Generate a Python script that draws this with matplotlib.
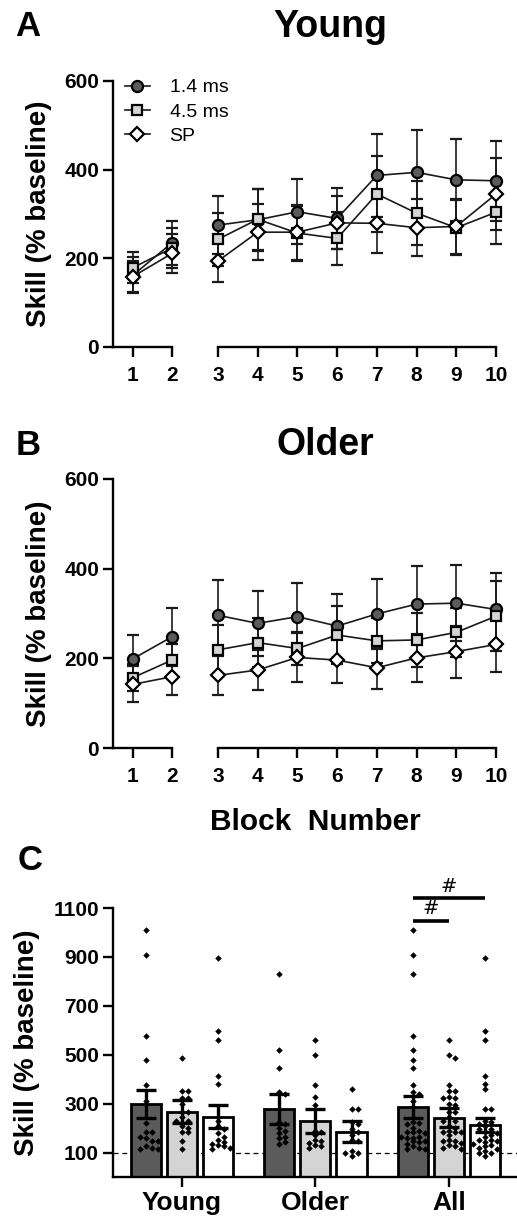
import numpy as np
import matplotlib
matplotlib.use("Agg")
import matplotlib.pyplot as plt

plt.rcParams["font.family"] = ["Liberation Sans", "DejaVu Sans"]
plt.rcParams["font.weight"] = "bold"
plt.rcParams["axes.labelweight"] = "bold"

# ---- data ----
blocks = np.arange(1, 11)
series = ["1.4 ms", "4.5 ms", "SP"]

young_mean = {
    "1.4 ms": [162, 235, 275, 287, 305, 290, 387, 394, 377, 375],
    "4.5 ms": [179, 223, 243, 288, 257, 245, 345, 302, 269, 304],
    "SP": [159, 211, 194, 259, 259, 280, 279, 269, 272, 345],
}
young_sem = {
    "1.4 ms": [40, 50, 65, 70, 73, 68, 93, 96, 92, 90],
    "4.5 ms": [35, 45, 60, 69, 62, 60, 85, 73, 62, 72],
    "SP": [35, 45, 47, 63, 62, 60, 68, 64, 62, 82],
}
older_mean = {
    "1.4 ms": [199, 248, 296, 278, 293, 272, 299, 321, 323, 309],
    "4.5 ms": [157, 196, 219, 235, 222, 252, 239, 241, 258, 294],
    "SP": [142, 159, 162, 174, 202, 196, 179, 201, 215, 231],
}
older_sem = {
    "1.4 ms": [52, 65, 78, 72, 76, 71, 79, 85, 85, 81],
    "4.5 ms": [30, 35, 55, 55, 36, 65, 50, 60, 55, 78],
    "SP": [40, 40, 43, 44, 54, 52, 47, 53, 58, 61],
}

groups = ["Young", "Older", "All"]
bar_mean = {"1.4 ms": [297, 279, 287], "4.5 ms": [267, 229, 243], "SP": [247, 186, 213]}
bar_sem = {"1.4 ms": [57, 62, 46], "4.5 ms": [47, 50, 40], "SP": [48, 43, 30]}

young_pts = {
    "1.4 ms": [1009, 908, 578, 477, 376, 310, 222, 182, 182, 165, 160, 148, 148, 128, 120, 114, 114],
    "4.5 ms": [487, 351, 351, 324, 324, 297, 266, 266, 245, 229, 229, 210, 200, 182, 182, 148, 114],
    "SP": [894, 595, 561, 415, 381, 230, 210, 195, 180, 165, 150, 145, 135, 130, 125, 120, 115],
}
older_pts = {
    "1.4 ms": [829, 518, 446, 347, 340, 223, 215, 200, 190, 180, 165, 160, 145, 135],
    "4.5 ms": [559, 498, 378, 327, 296, 190, 184, 170, 150, 148, 140, 130, 128, 120],
    "SP": [361, 277, 277, 223, 215, 196, 184, 170, 150, 148, 107, 100, 97, 85],
}
# "All" is the pooled sample of both age groups
all_pts = {k: young_pts[k] + older_pts[k] for k in series}

# significance brackets (bar index a, bar index b, height)
sig = [(0, 2, 1140), (0, 1, 1048)]

# ---- styles ----
marker_style = {
    "1.4 ms": dict(marker="o", mfc="#5b5b5b", ms=8),
    "4.5 ms": dict(marker="s", mfc="#d4d4d4", ms=7.5),
    "SP": dict(marker="D", mfc="white", ms=7),
}
bar_color = {"1.4 ms": "#5b5b5b", "4.5 ms": "#d4d4d4", "SP": "white"}

W, H = 517, 1221
fig = plt.figure(figsize=(W / 100, H / 100), dpi=100)


def add_px(l, t, r, b):
    return fig.add_axes([l / W, 1 - b / H, (r - l) / W, (b - t) / H])


def style_axes(ax):
    for s in ["top", "right"]:
        ax.spines[s].set_visible(False)
    for s in ["left", "bottom"]:
        ax.spines[s].set_linewidth(1.7)
    ax.tick_params(direction="out", length=7, width=1.7, labelsize=15, pad=3)


def bold_ticks(ax):
    for lab in ax.get_xticklabels() + ax.get_yticklabels():
        lab.set_fontweight("bold")


def line_panel(top, bottom, means, sems):
    axl = add_px(113, top, 172, bottom)
    axr = add_px(218, top, 496, bottom)
    handles = []
    for name in series:
        m = np.array(means[name])
        e = np.array(sems[name])
        for ax, sl in [(axl, slice(0, 2)), (axr, slice(2, 10))]:
            eb = ax.errorbar(blocks[sl], m[sl], yerr=e[sl], color="#1a1a1a",
                             lw=1.2, elinewidth=1.2, capsize=4.5, capthick=1.2,
                             mec="black", mew=1.6, **marker_style[name])
            for art in eb.get_children():
                art.set_clip_on(False)
        handles.append(eb[0])
    for ax in (axl, axr):
        style_axes(ax)
        ax.set_ylim(0, 600)
    axl.set_xlim(0.49, 2)
    axr.set_xlim(3, 10)
    axl.set_xticks([1, 2])
    axr.set_xticks(range(3, 11))
    axl.set_yticks([0, 200, 400, 600])
    axr.spines["left"].set_visible(False)
    axr.set_yticks([])
    axl.tick_params(axis="x", pad=7)
    axr.tick_params(axis="x", pad=7)
    bold_ticks(axl)
    bold_ticks(axr)
    axl.set_ylabel("Skill (% baseline)", fontsize=20, fontweight="bold")
    axl.yaxis.set_label_coords(-1.03, 0.5)
    return axl, handles


# Panel A
axA, handles = line_panel(81, 347, young_mean, young_sem)
fig.legend(handles, series, loc="upper left", bbox_to_anchor=(117 / W, 1 - 71 / H),
           frameon=False, prop={"weight": "normal", "size": 14},
           handlelength=1.3, handletextpad=1.0, labelspacing=0.35, borderaxespad=0)
fig.text(28 / W, 1 - 27 / H, "A", fontsize=25, ha="center", va="center")
fig.text(330 / W, 1 - 27 / H, "Young", fontsize=27, ha="center", va="center")

# Panel B
axB, _ = line_panel(479, 748, older_mean, older_sem)
fig.text(28 / W, 1 - 445 / H, "B", fontsize=25, ha="center", va="center")
fig.text(325 / W, 1 - 445 / H, "Older", fontsize=27, ha="center", va="center")
fig.text(315 / W, 1 - 822 / H, "Block  Number", fontsize=21.5, ha="center", va="center")

# Panel C
fig.text(30 / W, 1 - 860 / H, "C", fontsize=25, ha="center", va="center")
axC = add_px(113, 908, 517, 1177)
style_axes(axC)
x = np.arange(len(groups))
offs = [-0.27, 0.0, 0.27]
width = 0.225


def swarm(vals, dy=17, dx=0.045, kmax=2):
    vals = np.asarray(vals, float)
    out = np.zeros(len(vals))
    placed = []
    steps = [0]
    for k in range(1, kmax + 1):
        steps += [k, -k]
    for i in np.argsort(vals)[::-1]:
        best = steps[0]
        for k in steps:
            if all(abs(vals[i] - v) > dy or abs(k - kk) >= 1 for v, kk in placed):
                best = k
                break
        placed.append((vals[i], best))
        out[i] = best * dx
    return out


axC.axhline(100, color="black", lw=0.9, ls=(0, (4, 3)), zorder=1)
for j, name in enumerate(series):
    xs = x + offs[j]
    axC.bar(xs, bar_mean[name], width, color=bar_color[name], edgecolor="black",
            linewidth=2, zorder=2)
    for g, pts in enumerate([young_pts[name], older_pts[name], all_pts[name]]):
        axC.scatter(xs[g] + swarm(pts), pts, marker="D", s=11, color="black",
                    linewidths=0, zorder=3)
    axC.errorbar(xs, bar_mean[name], yerr=bar_sem[name], fmt="none", ecolor="black",
                 elinewidth=2.4, capsize=7, capthick=2.4, zorder=4)

for a, b, h in sig:
    xa, xb = x[2] + offs[a], x[2] + offs[b]
    axC.plot([xa, xb], [h, h], color="black", lw=2.6, clip_on=False, solid_capstyle="butt")
    axC.text((xa + xb) / 2, h + 10, "#", ha="center", va="bottom", fontsize=14,
             fontweight="normal", family=["DejaVu Sans"])

axC.set_ylim(0, 1100)
axC.set_yticks([100, 300, 500, 700, 900, 1100])
axC.set_xlim(-0.517, 2.51)
axC.set_xticks(x)
axC.set_xticklabels(groups, fontsize=19)
axC.tick_params(axis="x", pad=3)
bold_ticks(axC)
axC.set_ylabel("Skill (% baseline)", fontsize=20, fontweight="bold")
axC.yaxis.set_label_coords(-0.18, 0.5)

fig.savefig("out.png", dpi=100)
